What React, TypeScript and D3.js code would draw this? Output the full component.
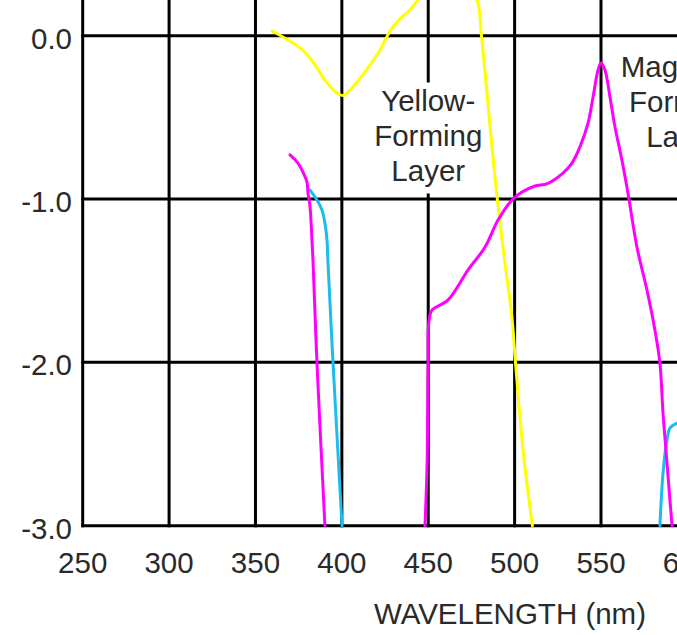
import React from "react";
import * as d3 from "d3";

const W = 677;
const H = 635;

const X_TICKS = [250, 300, 350, 400, 450, 500, 550, 600];
const Y_TICKS = [0, -1, -2, -3];
const X_TITLE = "WAVELENGTH (nm)";

const YELLOW_LABEL = ["Yellow-", "Forming", "Layer"];
const MAGENTA_LABEL = ["Magenta-", "Forming", "Layer"];

// Yellow-forming layer (log sensitivity)
const yellowWl = [359.6, 365.9, 375.8, 383.3, 390.2, 397.2, 400.7, 404.7, 413.4, 422.1, 428.0, 434.8, 439.4, 444.1, 452, 462, 472, 478.2, 480.8, 484, 487.5, 490.5, 494.5, 498.4, 500.5, 505, 510.3];
const yellowV = [0.029, -0.008, -0.075, -0.161, -0.272, -0.351, -0.366, -0.333, -0.222, -0.087, 0.03, 0.115, 0.158, 0.219, 0.3, 0.34, 0.3, 0.219, 0.0, -0.35, -0.75, -1.05, -1.4, -1.72, -2.0, -2.55, -3.0];

// Magenta-forming layer, blue side
const magenta1Wl = [370.0, 374.6, 377.5, 379.8, 380.4, 381.6, 382.7, 383.3, 385.6, 390.2];
const magenta1V = [-0.73, -0.78, -0.835, -0.896, -0.963, -1.049, -1.251, -1.374, -2.004, -3.0];

// Magenta-forming layer, main band
const magenta2Wl = [448.1, 449.3, 449.9, 450.3, 452.2, 461.4, 473.0, 482.9, 490.4, 498.5, 504.3, 511.8, 519.0, 528.0, 533.2, 537.8, 542.5, 545.4, 548.3, 550.0, 552.3, 555.2, 558.1, 562.1, 565.6, 570.8, 576.6, 581.2, 584.1, 585.9, 588.2, 591.1];
const magenta2V = [-3.0, -2.641, -2.029, -1.76, -1.68, -1.619, -1.435, -1.294, -1.129, -1.006, -0.957, -0.92, -0.905, -0.841, -0.78, -0.681, -0.535, -0.375, -0.21, -0.167, -0.21, -0.375, -0.559, -0.761, -0.963, -1.294, -1.557, -1.802, -2.004, -2.31, -2.617, -3.0];

// Cyan-forming layer, blue side
const cyan1Wl = [381.6, 385.6, 388.5, 390.2, 391.4, 391.9, 394.9, 400.1];
const cyan1V = [-0.945, -1.006, -1.067, -1.147, -1.251, -1.374, -2.004, -3.0];

// Cyan-forming layer, red band (rising edge)
const cyan2Wl = [584.1, 585.9, 588.2, 589.9, 594.0, 600.0];
const cyan2V = [-3.0, -2.678, -2.476, -2.402, -2.372, -2.35];

const YELLOW = "#ffff00";
const MAGENTA = "#ff00ff";
const CYAN = "#1cbcec";
const INK = "#2a2a2a";
const FONT = "'Liberation Sans', Arial, Helvetica, sans-serif";

type Series = { wl: number[]; v: number[]; color: string; width: number };

const SERIES: Series[] = [
  { wl: yellowWl, v: yellowV, color: YELLOW, width: 3 },
  { wl: cyan1Wl, v: cyan1V, color: CYAN, width: 3 },
  { wl: magenta1Wl, v: magenta1V, color: MAGENTA, width: 3 },
  { wl: cyan2Wl, v: cyan2V, color: CYAN, width: 3 },
  { wl: magenta2Wl, v: magenta2V, color: MAGENTA, width: 3 },
];

export default function App() {
  const x = d3.scaleLinear().domain([250, 550]).range([82.7, 601]);
  const y = d3.scaleLinear().domain([0, -3]).range([35.7, 525.7]);

  const line = d3
    .line<[number, number]>()
    .x((d) => x(d[0]))
    .y((d) => y(d[1]))
    .curve(d3.curveCatmullRom.alpha(0.5));

  const fs = 29.5;
  const lineGap = 35;
  const yellowBase = 110.5;
  const magentaBase = 76.5;
  const labelWl = 450;
  const magLabelWl = 597.5;

  const gapTop = yellowBase - 28;
  const gapBottom = yellowBase + lineGap * (YELLOW_LABEL.length - 1) + 13;

  const yTop = y.invert(0);
  const yBot = -3;

  return (
    <div style={{ position: "absolute", left: 0, top: 0, width: W, height: H, background: "#fff" }}>
      <svg width={W} height={H} style={{ display: "block" }}>
        <defs>
          <clipPath id="plot">
            <rect x={x(250)} y={0} width={W} height={y(yBot) + 2} />
          </clipPath>
        </defs>
        <rect x={0} y={0} width={W} height={H} fill="#fff" />
        {/* vertical grid */}
        {X_TICKS.map((t) => (
          <line
            key={"v" + t}
            x1={x(t)}
            x2={x(t)}
            y1={y(yTop)}
            y2={y(yBot)}
            stroke="#000"
            strokeWidth={3}
            strokeLinecap="square"
          />
        ))}
        {/* horizontal grid */}
        {Y_TICKS.map((t) => (
          <line
            key={"h" + t}
            x1={x(250)}
            x2={W + 10}
            y1={y(t)}
            y2={y(t)}
            stroke="#000"
            strokeWidth={3}
            strokeLinecap="square"
          />
        ))}
        {/* gap in gridline behind yellow label */}
        <rect x={x(labelWl) - 4} y={gapTop} width={8} height={gapBottom - gapTop} fill="#fff" />

        {/* curves */}
        <g clipPath="url(#plot)">
          {SERIES.map((s, i) => (
            <path
              key={i}
              d={line(s.wl.map((w, j) => [w, s.v[j]] as [number, number])) || ""}
              fill="none"
              stroke={s.color}
              strokeWidth={s.width}
              strokeLinejoin="round"
              strokeLinecap="round"
            />
          ))}
        </g>

        {/* labels */}
        <g fontFamily={FONT} fontSize={fs} fill={INK}>
          {Y_TICKS.map((t) => (
            <text key={"yl" + t} x={72} y={y(t) + 13} textAnchor="end">
              {d3.format(".1f")(t).replace("−", "-")}
            </text>
          ))}
          {X_TICKS.map((t) => (
            <text key={"xl" + t} x={x(t)} y={573} textAnchor="middle">
              {t}
            </text>
          ))}
          <text x={510} y={624} textAnchor="middle">
            {X_TITLE}
          </text>
          {YELLOW_LABEL.map((s, i) => (
            <text key={"yt" + i} x={x(labelWl)} y={yellowBase + i * lineGap} textAnchor="middle">
              {s}
            </text>
          ))}
          {MAGENTA_LABEL.map((s, i) => (
            <text key={"mt" + i} x={x(magLabelWl)} y={magentaBase + i * lineGap} textAnchor="middle">
              {s}
            </text>
          ))}
        </g>
      </svg>
    </div>
  );
}
